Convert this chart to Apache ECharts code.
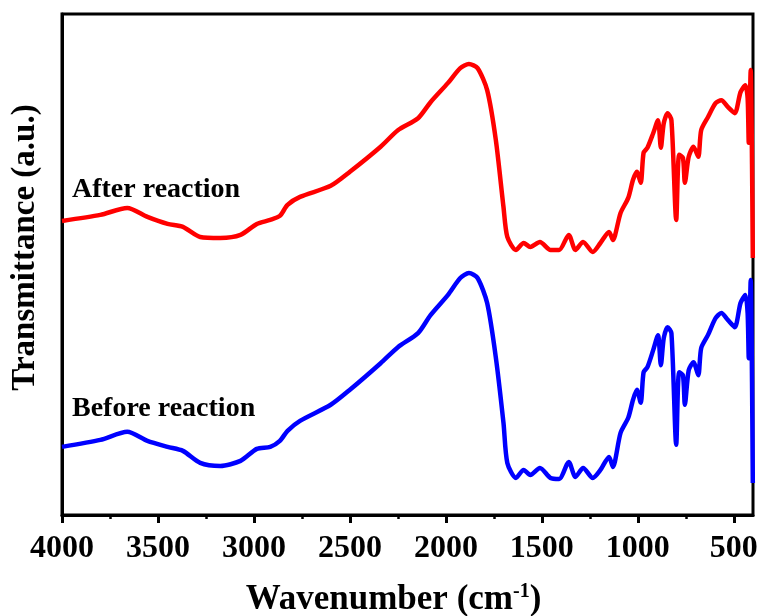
<!DOCTYPE html>
<html>
<head>
<meta charset="utf-8">
<script src="https://cdn.jsdelivr.net/npm/echarts@6/dist/echarts.min.js"></script>
<style>html,body{margin:0;padding:0;background:#fff;}#c{width:763px;height:616px;}</style>
</head>
<body>
<div id="c"></div>
<script>
// Wavenumbers (cm-1) for sampled points
const wavenumbers = [4000,3800,3660,3555,3450,3370,3280,3175,3070,2985,2915,2865,2825,2760,2600,2500,2340,2250,2145,2080,1990,1925,1880,1835,1785,1740,1700,1680,1635,1595,1560,1510,1455,1410,1360,1325,1285,1235,1195,1150,1130,1090,1050,1025,1005,985,970,950,920,895,880,865,845,825,800,785,765,755,735,710,685,670,635,595,565,530,495,465,440,428,422,412,401];
// Transmittance (a.u., offset) after reaction
const afterReaction = [58.7,59.9,61.3,59.5,58.1,57.5,55.5,55.3,55.9,58.1,58.9,59.7,61.9,63.5,65.7,68.5,73.5,76.8,79.2,82.4,86.2,89.2,90.0,89.2,84.8,74.9,61.5,55.5,52.9,54.3,53.5,54.5,52.9,52.9,55.9,52.9,54.5,52.5,54.3,56.5,54.9,60.3,63.3,66.9,68.5,66.3,72.3,73.3,76.2,78.8,73.3,78.2,80.2,78.8,58.9,71.9,71.3,66.3,71.5,73.5,71.5,76.8,79.4,82.2,82.8,81.4,80.2,84.4,85.8,83.2,74.3,88.8,51.3];
// Transmittance (a.u., offset) before reaction
const beforeReaction = [13.6,15.0,16.6,14.8,13.6,12.8,10.4,9.8,10.8,13.2,13.6,14.8,16.8,18.8,22.0,25.0,30.3,33.5,36.3,39.9,43.9,47.3,48.3,47.3,42.3,31.5,18.4,10.4,7.4,9.0,8.0,9.4,7.4,7.2,10.6,7.6,9.4,7.4,9.0,11.6,9.6,16.4,19.4,23.0,25.0,22.4,28.5,29.5,32.9,35.9,29.9,35.3,37.5,36.3,14.0,28.5,27.9,22.0,28.9,30.5,27.9,33.3,35.9,39.3,40.3,38.9,37.5,42.3,43.9,40.3,31.3,46.9,6.4];
const majorTicks = [4000,3500,3000,2500,2000,1500,1000,500];
const minorTicks = [3750,3250,2750,2250,1750,1250,750];
const seriesNames = ['After reaction','Before reaction'];
const labelAnchors = [[3948,64.9],[3948,21.2]];

const FONT = '"Liberation Serif","Times New Roman",serif';
const chart = echarts.init(document.getElementById('c'));
function pairs(ys){ return wavenumbers.map((w,i)=>[w,ys[i]]); }
function mk(name, ys, color, anchor){
  return {
    name, type:'line', data:pairs(ys), showSymbol:false, smooth:0.25,
    lineStyle:{color, width:4.5}, xAxisIndex:0, yAxisIndex:0,
    markPoint:{
      symbol:'circle', symbolSize:0, silent:true,
      data:[{coord:anchor, label:{show:true, position:'right', distance:0, formatter:name,
        color:'#000', fontFamily:FONT, fontWeight:'bold', fontSize:28}}]
    }
  };
}
chart.setOption({
  animation:false,
  backgroundColor:'#fff',
  grid:{left:62, right:10, top:14, bottom:101, containLabel:false, outerBoundsMode:'none',
    show:true, borderColor:'#000', borderWidth:3, backgroundColor:'transparent'},
  xAxis:[{
    type:'value', inverse:true, min:400, max:4000,
    axisLine:{show:true, lineStyle:{color:'#000', width:3}},
    axisTick:{show:true, customValues:majorTicks, length:8, lineStyle:{color:'#000', width:3}},
    axisLabel:{show:true, customValues:majorTicks, margin:18, color:'#000', fontFamily:FONT, fontWeight:'bold', fontSize:32,
      formatter:function(v){ return String(v); }},
    splitLine:{show:false},
    name:'Wavenumber (cm{sup|-1})', nameLocation:'middle', nameGap:67,
    nameTextStyle:{color:'#000', fontFamily:FONT, fontWeight:'bold', fontSize:35, padding:[0,28,0,0],
      rich:{sup:{fontFamily:FONT, fontWeight:'bold', fontSize:20, verticalAlign:'top', padding:[0,0,13,0], color:'#000'}}}
  },{
    type:'value', inverse:true, min:400, max:4000, position:'bottom',
    axisLine:{show:false},
    axisTick:{show:true, customValues:minorTicks, length:4, lineStyle:{color:'#000', width:2.5}},
    axisLabel:{show:false}, splitLine:{show:false}
  }],
  yAxis:{
    type:'value', min:0, max:100,
    axisLine:{show:true, lineStyle:{color:'#000', width:3}},
    axisTick:{show:false}, axisLabel:{show:false}, splitLine:{show:false},
    name:'Transmittance (a.u.)', nameLocation:'middle', nameGap:20,
    nameTextStyle:{color:'#000', fontFamily:FONT, fontWeight:'bold', fontSize:33, padding:[0,0,0,34]}
  },
  series:[
    mk(seriesNames[0], afterReaction, '#ff0000', labelAnchors[0]),
    mk(seriesNames[1], beforeReaction, '#0000ff', labelAnchors[1])
  ]
});
</script>
</body>
</html>
